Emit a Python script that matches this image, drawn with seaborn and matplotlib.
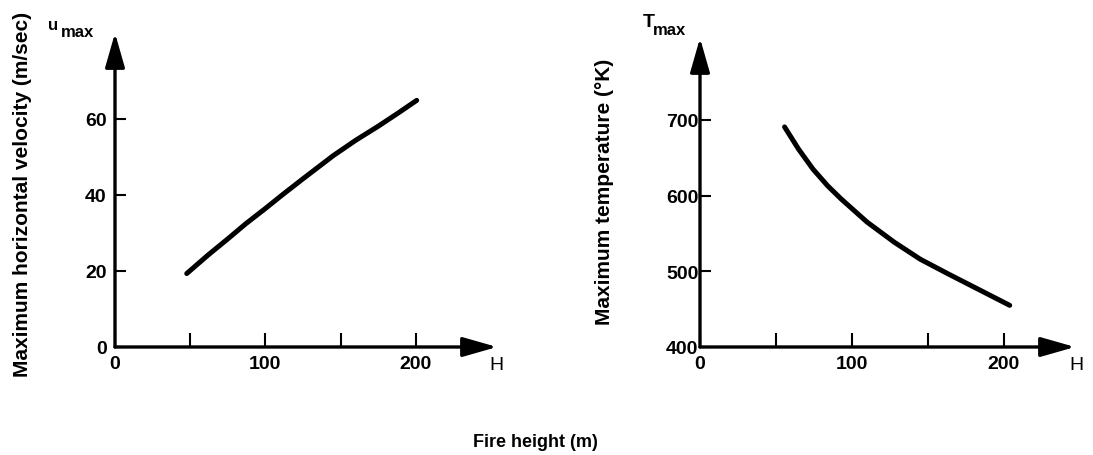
import matplotlib
matplotlib.use("Agg")
import matplotlib.pyplot as plt
import seaborn as sns

# values
h_vel = [47.7, 62.0, 75.3, 87.0, 99.7, 112.0, 125.0, 145.2, 160.0, 175.0, 188.0, 200.6]
u_max = [19.3, 24.2, 28.5, 32.4, 36.3, 40.2, 44.2, 50.3, 54.3, 58.0, 61.4, 64.8]

h_temp = [55.7, 65.0, 74.4, 84.0, 93.0, 110.0, 128.0, 145.0, 163.0, 184.0, 204.0]
t_max = [690.6, 661.0, 634.9, 613.0, 595.4, 565.0, 538.3, 516.0, 497.0, 475.5, 455.0]

x_ticks = [0, 50, 100, 150, 200]
x_tick_labels = ["0", "", "100", "", "200"]
u_ticks = [0, 20, 40, 60]
t_ticks = [400, 500, 600, 700]

sns.set_theme(style="white")
plt.rcParams["font.family"] = ["Liberation Sans", "DejaVu Sans"]
plt.rcParams["text.color"] = "black"

W, H = 1093, 456
fig = plt.figure(figsize=(W / 100, H / 100), dpi=100)


def px(x, y):
    return x / W, 1 - y / H


ax1 = fig.add_axes([115 / W, (H - 348) / H, 382 / W, 314 / H])
ax2 = fig.add_axes([700 / W, (H - 348) / H, 375 / W, 309 / H])

sns.lineplot(x=h_vel, y=u_max, ax=ax1, color="black", lw=3.6, sort=False,
             estimator=None, solid_capstyle="round")
sns.lineplot(x=h_temp, y=t_max, ax=ax2, color="black", lw=3.6, sort=False,
             estimator=None, solid_capstyle="round")

ax1.set_xlim(0, 254)
ax1.set_ylim(0, 82.5)
ax2.set_xlim(0, 247)
ax2.set_ylim(400, 808)

for ax, yt, ypad in [(ax1, u_ticks, 6), (ax2, t_ticks, 1)]:
    for s in ax.spines.values():
        s.set_visible(False)
    ax.set_xticks(x_ticks)
    ax.set_xticklabels(x_tick_labels)
    ax.set_yticks(yt)
    ax.tick_params(axis="x", direction="in", length=10, width=1.5, pad=6,
                   labelsize=14, colors="black", bottom=True)
    ax.tick_params(axis="y", direction="in", length=8, width=1.5, pad=ypad,
                   labelsize=14, colors="black", left=True)
    for lab in ax.get_xticklabels() + ax.get_yticklabels():
        lab.set_fontweight("bold")
    # axis lines with arrowheads
    arrow = dict(arrowstyle="-|>,head_length=1.75,head_width=0.5", lw=2.4,
                 color="black", shrinkA=0, shrinkB=0)
    ax.annotate("", xy=(1, 0), xytext=(0, 0), xycoords="axes fraction",
                arrowprops=arrow, annotation_clip=False)
    ax.annotate("", xy=(0, 1), xytext=(0, 0), xycoords="axes fraction",
                arrowprops=arrow, annotation_clip=False)
    ax.set_xlabel("")
    ax.set_ylabel("")

# axis names
fig.text(*px(23, 194), "Maximum horizontal velocity (m/sec)", rotation=90,
         ha="center", va="center", fontsize=15, fontweight="bold", color="black")
fig.text(*px(605, 192), "Maximum temperature (\u00b0K)", rotation=90,
         ha="center", va="center", fontsize=15, fontweight="bold", color="black")
fig.text(*px(535, 443), "Fire height (m)", ha="center", va="center",
         fontsize=13, fontweight="bold", color="black")

fig.text(*px(48, 30), "u", ha="left", va="baseline", fontsize=12, fontweight="bold")
fig.text(*px(61, 37), "max", ha="left", va="baseline", fontsize=12, fontweight="bold")
fig.text(*px(643, 27), "T", ha="left", va="baseline", fontsize=14, fontweight="bold")
fig.text(*px(653, 35), "max", ha="left", va="baseline", fontsize=12, fontweight="bold")

fig.text(*px(496, 357), "H", ha="center", va="top", fontsize=14)
fig.text(*px(1076, 357), "H", ha="center", va="top", fontsize=14)

fig.savefig("out.png", dpi=100, facecolor="white")
